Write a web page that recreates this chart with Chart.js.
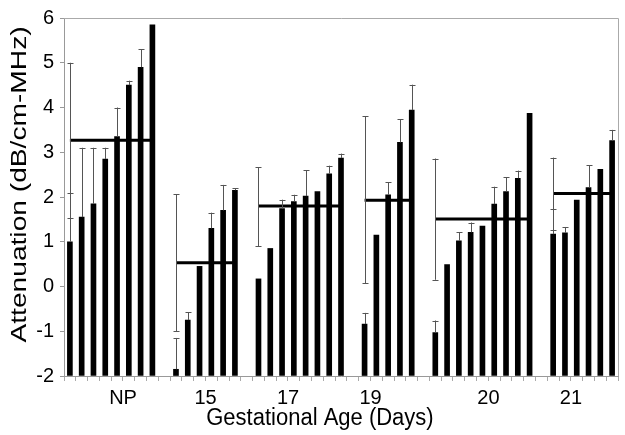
<!DOCTYPE html>
<html>
<head>
<meta charset="utf-8">
<script src="https://cdn.jsdelivr.net/npm/chart.js@4.4.1/dist/chart.umd.min.js"></script>
<style>
  body { margin: 0; background: #fff; }
  #wrap { width: 625px; height: 435px; }
</style>
</head>
<body>
<div id="wrap"><canvas id="chart"></canvas></div>
<script>
// Groups along the x axis
const groups = ['NP', '15', '17', '19', '20', '21'];
const xTitle = 'Gestational Age (Days)';
const yTitle = 'Attenuation (dB/cm-MHz)';

// Attenuation of each sample (bar tops), one list per group
const npVals  = [1.0, 1.55, 1.85, 2.85, 3.35, 4.5, 4.9, 5.85];
const d15Vals = [-1.85, -0.75, 0.45, 1.3, 1.7, 2.15];
const d17Vals = [0.17, 0.85, 1.74, 1.9, 2.02, 2.12, 2.52, 2.87];
const d19Vals = [-0.84, 1.15, 2.05, 3.22, 3.94];
const d20Vals = [-1.03, 0.49, 1.02, 1.21, 1.35, 1.84, 2.12, 2.42, 3.87];
const d21Vals = [1.17, 1.2, 1.93, 2.21, 2.62, 3.26];

// Upper end of each sample's error bar (null = none shown)
const npErr  = [2.08, 3.1, 3.1, 3.1, 4.0, 4.6, 5.3, null];
const d15Err = [-1.15, -0.57, null, 1.65, 2.27, 2.2];
const d17Err = [null, null, 1.94, 2.05, 2.6, null, 2.7, 2.97];
const d19Err = [-0.59, null, 2.33, 3.74, 4.51];
const d20Err = [-0.76, null, 1.21, 1.43, null, 2.23, 2.44, 2.59, null];
const d21Err = [1.73, 1.33, null, 2.71, null, 3.5];

// Group mean and its +/- SD range
const groupMeans = [3.27, 0.53, 1.8, 1.93, 1.51, 2.08];
const sdHigh = [5.0, 2.06, 2.67, 3.8, 2.86, 2.88];
const sdLow  = [1.52, -1.0, 0.9, 0.07, 0.15, 1.27];

const groupVals = [npVals, d15Vals, d17Vals, d19Vals, d20Vals, d21Vals];
const groupErrs = [npErr, d15Err, d17Err, d19Err, d20Err, d21Err];

// which bar of each group the group name sits under
const labelAt = [4, 2, 2, 0, 4, 1];

// one category slot per bar, an empty slot between groups
const labels = [], barData = [], errData = [], meanData = [], sdData = [];
groupVals.forEach((vals, g) => {
  if (g > 0) {
    labels.push(''); barData.push(null); errData.push(null);
    meanData.push(null); sdData.push(null);
  }
  vals.forEach((v, i) => {
    labels.push(i === labelAt[g] ? groups[g] : '');
    barData.push(v);
    errData.push(groupErrs[g][i]);
    meanData.push(groupMeans[g]);
    sdData.push(i === 0 ? [sdLow[g], sdHigh[g]] : null);
  });
});

// thin grey whiskers with caps
const errorBars = {
  id: 'errorBars',
  afterDatasetsDraw(chart) {
    const { ctx, scales: { x, y } } = chart;
    ctx.save();
    ctx.strokeStyle = '#555';
    ctx.lineWidth = 1;
    ctx.beginPath();
    const cap = (px, py) => {
      py = Math.round(py) + 0.5;
      ctx.moveTo(px - 3, py); ctx.lineTo(px + 3, py);
    };
    barData.forEach((v, i) => {
      const px = Math.round(x.getPixelForValue(i)) + 0.5;
      if (errData[i] != null) {
        const top = y.getPixelForValue(errData[i]);
        ctx.moveTo(px, y.getPixelForValue(v));
        ctx.lineTo(px, top);
        cap(px, top);
      }
      if (sdData[i]) {
        const lo = y.getPixelForValue(sdData[i][0]);
        const hi = y.getPixelForValue(sdData[i][1]);
        ctx.moveTo(px, lo);
        ctx.lineTo(px, hi);
        cap(px, lo);
        cap(px, hi);
      }
    });
    ctx.stroke();
    ctx.restore();
  }
};

// grey frame on top and right of the plot
const frame = {
  id: 'frame',
  beforeDatasetsDraw(chart) {
    const { ctx, chartArea: a } = chart;
    ctx.save();
    ctx.strokeStyle = '#aaa';
    ctx.lineWidth = 1;
    ctx.beginPath();
    ctx.moveTo(a.left, Math.round(a.top) + 0.5);
    ctx.lineTo(Math.round(a.right) + 0.5, Math.round(a.top) + 0.5);
    ctx.lineTo(Math.round(a.right) + 0.5, a.bottom);
    ctx.stroke();
    ctx.restore();
  }
};

// axis titles; the source figure is a little stretched vertically
const axisTitles = {
  id: 'axisTitles',
  afterDraw(chart) {
    const { ctx, chartArea: a } = chart;
    ctx.save();
    ctx.fillStyle = '#000';
    ctx.font = '22px "Liberation Sans", Arial, sans-serif';
    ctx.textAlign = 'center';
    ctx.textBaseline = 'middle';

    ctx.save();
    ctx.translate(a.left + (a.right - a.left) * 0.462, a.bottom + 43);
    ctx.scale(1, 1.05);
    ctx.fillText(xTitle, 0, 0);
    ctx.restore();

    ctx.save();
    ctx.translate(20, a.top + (a.bottom - a.top) * 0.465);
    ctx.rotate(-Math.PI / 2);
    ctx.scale(1.28, 1);
    ctx.fillText(yTitle, 0, 0);
    ctx.restore();

    ctx.restore();
  }
};

const font = { family: '"Liberation Sans", Arial, sans-serif', size: 20 };

new Chart(document.getElementById('chart'), {
  type: 'bar',
  data: {
    labels: labels,
    datasets: [
      {
        type: 'line',
        data: meanData,
        borderColor: '#000',
        borderWidth: 3,
        pointRadius: 0,
        spanGaps: false,
        order: 0
      },
      {
        data: barData,
        backgroundColor: '#000',
        barThickness: 5,
        base: -2,
        order: 1
      }
    ]
  },
  options: {
    responsive: true,
    maintainAspectRatio: false,
    animation: false,
    layout: { padding: { top: 13, right: 7 } },
    plugins: { legend: { display: false }, tooltip: { enabled: false } },
    scales: {
      x: {
        offset: true,
        grid: { offset: true, drawOnChartArea: false, tickLength: 5, color: '#aaa' },
        border: { color: '#999' },
        ticks: { autoSkip: false, maxRotation: 0, font: font, color: '#000', labelOffset: 6, padding: 5 },
        afterFit(s) { s.height = 59; }
      },
      y: {
        min: -2,
        max: 6,
        ticks: { stepSize: 1, font: font, color: '#000', padding: 6 },
        grid: { drawOnChartArea: false, tickLength: 4, color: '#999' },
        border: { color: '#999' },
        afterFit(s) { s.width = 64; }
      }
    }
  },
  plugins: [errorBars, frame, axisTitles]
});
</script>
</body>
</html>
